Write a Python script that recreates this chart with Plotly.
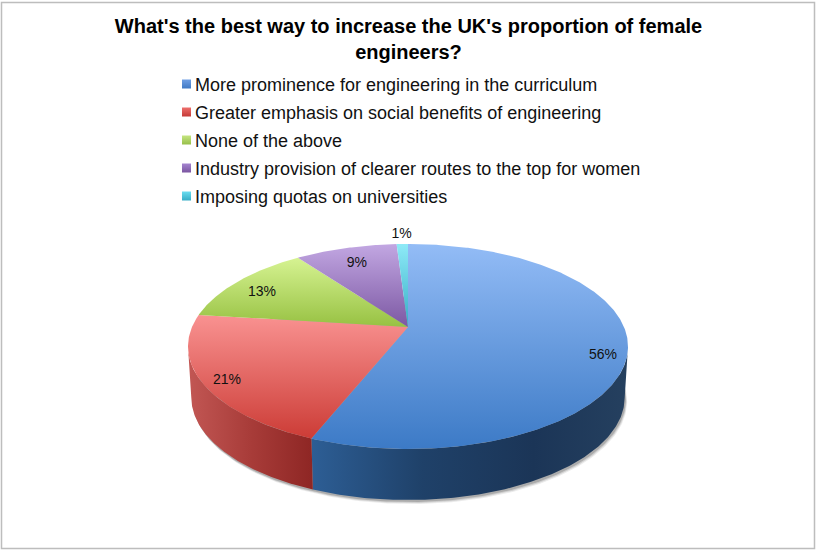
import numpy as np
import plotly.graph_objects as go

TITLE = "What's the best way to increase the UK's proportion of female<br>engineers?"
categories = [
    "More prominence for engineering in the curriculum",
    "Greater emphasis on social benefits of engineering",
    "None of the above",
    "Industry provision of clearer routes to the top for women",
    "Imposing quotas on universities",
]
values = [56, 21, 13, 9, 1]

# Styles
top_colors = [("#93BCF6", "#3C7AC6"), ("#F99291", "#CC3C36"), ("#D6F392", "#97C142"),
              ("#C2A7E2", "#7C58A3"), ("#8EEAF7", "#36ADC6")]
side_scales = [
    [[0, "#2D5E95"], [0.35, "#1F4169"], [0.7, "#1B3557"], [1, "#25405F"]],
    [[0, "#C25754"], [0.5, "#A83C39"], [1, "#8E2624"]],
]
legend_colors = [("#6F9FE4", "#3F79C4"), ("#EE6F6C", "#C43A36"), ("#C5E581", "#97BF4A"),
                 ("#A585D0", "#7A55A0"), ("#6ADDF0", "#36ADC6")]

# Perspective projection of the pie disc onto the page
CX, CY, A, B, K = 408.0, 327.0, 216.0, 98.8, 0.19
DEPTH, FOOT = 51.0, 0.985
VIS_START, VIS_END = 101.0, 259.0


def project(deg, r=1.0):
    th = np.radians(deg)
    X, Y = r * np.sin(th), r * np.cos(th)
    d = 1 + K * Y
    return CX + A * X / d, CY - B * Y / d


def foot(x, y):
    return CX + (x - CX) * FOOT, y + DEPTH


cum = np.concatenate([[0], np.cumsum(values)]) * 360.0 / sum(values)
fig = go.Figure()
noinfo = dict(hoverinfo="skip", showlegend=False)

# soft shadow under the pie
full = np.linspace(0, 360, 361)
fx, fy = foot(*project(full))
for off, alpha in [(4.0, 0.10), (3.0, 0.16), (2.0, 0.24)]:
    fig.add_trace(go.Scatter(x=fx + off * 0.6, y=fy + off, mode="lines", line=dict(width=0),
                             fill="toself", fillcolor=f"rgba(60,60,60,{alpha})", **noinfo))

# side walls
wall = 0
for i in range(len(values)):
    a0, a1 = max(cum[i], VIS_START), min(cum[i + 1], VIS_END)
    if a1 <= a0:
        continue
    ang = np.linspace(a0, a1, 160)
    tx, ty = project(ang)
    bx, by = foot(tx, ty)
    px = np.concatenate([tx, bx[::-1], tx[:1]])
    py = np.concatenate([ty, by[::-1], ty[:1]])
    scale = side_scales[wall]
    wall += 1
    fig.add_trace(go.Scatter(
        x=px, y=py, mode="lines", line=dict(width=0), fill="toself",
        fillgradient=dict(type="horizontal", colorscale=scale,
                          start=float(px.min()), stop=float(px.max())), **noinfo))

# top faces
for i in range(len(values)):
    ang = np.linspace(cum[i], cum[i + 1], max(8, int(cum[i + 1] - cum[i]) * 2))
    ax, ay = project(ang)
    px = np.concatenate([[CX], ax, [CX]])
    py = np.concatenate([[CY], ay, [CY]])
    c0, c1 = top_colors[i]
    fig.add_trace(go.Scatter(
        x=px, y=py, mode="lines", line=dict(width=0), fill="toself",
        fillgradient=dict(type="vertical", colorscale=[[0, c0], [1, c1]],
                          start=float(py.min()), stop=float(py.max())),
        name=categories[i], **noinfo))

# percentage labels
label_r = [0.89, 0.89, 0.85, 0.80, 1.163]
label_dy = [11, 5, 5, 2, 2]
mids = (cum[:-1] + cum[1:]) / 2
lx, ly = [], []
for m, r, dy in zip(mids, label_r, label_dy):
    x, y = project(m, r)
    lx.append(x)
    ly.append(y + dy)
fig.add_trace(go.Scatter(x=lx, y=ly, mode="text", text=[f"{v}%" for v in values],
                         textposition="middle center",
                         textfont=dict(family="Liberation Sans", size=14, color="#111111"), **noinfo))

# legend
rows = [85 + 28 * i for i in range(len(categories))]
for i, cat in enumerate(categories):
    fig.add_trace(go.Scatter(
        x=[186.5], y=[rows[i] - 1], mode="markers",
        marker=dict(symbol="square", size=9, color=legend_colors[i][0],
                    gradient=dict(type="vertical", color=legend_colors[i][1]), line=dict(width=0)),
        **noinfo))
fig.add_trace(go.Scatter(x=[195] * len(rows), y=[r + 1 for r in rows], mode="text", text=categories,
                         textposition="middle right",
                         textfont=dict(family="Liberation Sans", size=18, color="#111111"), **noinfo))

fig.update_layout(
    width=817, height=551, margin=dict(l=0, r=0, t=0, b=0),
    paper_bgcolor="white", plot_bgcolor="white", showlegend=False,
    title=dict(text=TITLE, x=0.5, xanchor="center", y=0.941, yanchor="top",
               font=dict(family="Liberation Sans", size=20, color="black", weight="bold")),
    xaxis=dict(range=[0, 817], visible=False, fixedrange=True),
    yaxis=dict(range=[551, 0], visible=False, fixedrange=True),
    shapes=[dict(type="rect", xref="x", yref="y", x0=1.5, x1=814.5, y0=2.5, y1=548.5,
                 line=dict(color="#BDBDBD", width=1.5), layer="below")],
)
fig.write_html("out.html", config={"displayModeBar": False},
               post_script="document.body.style.margin='0';document.documentElement.style.overflow='hidden';")
